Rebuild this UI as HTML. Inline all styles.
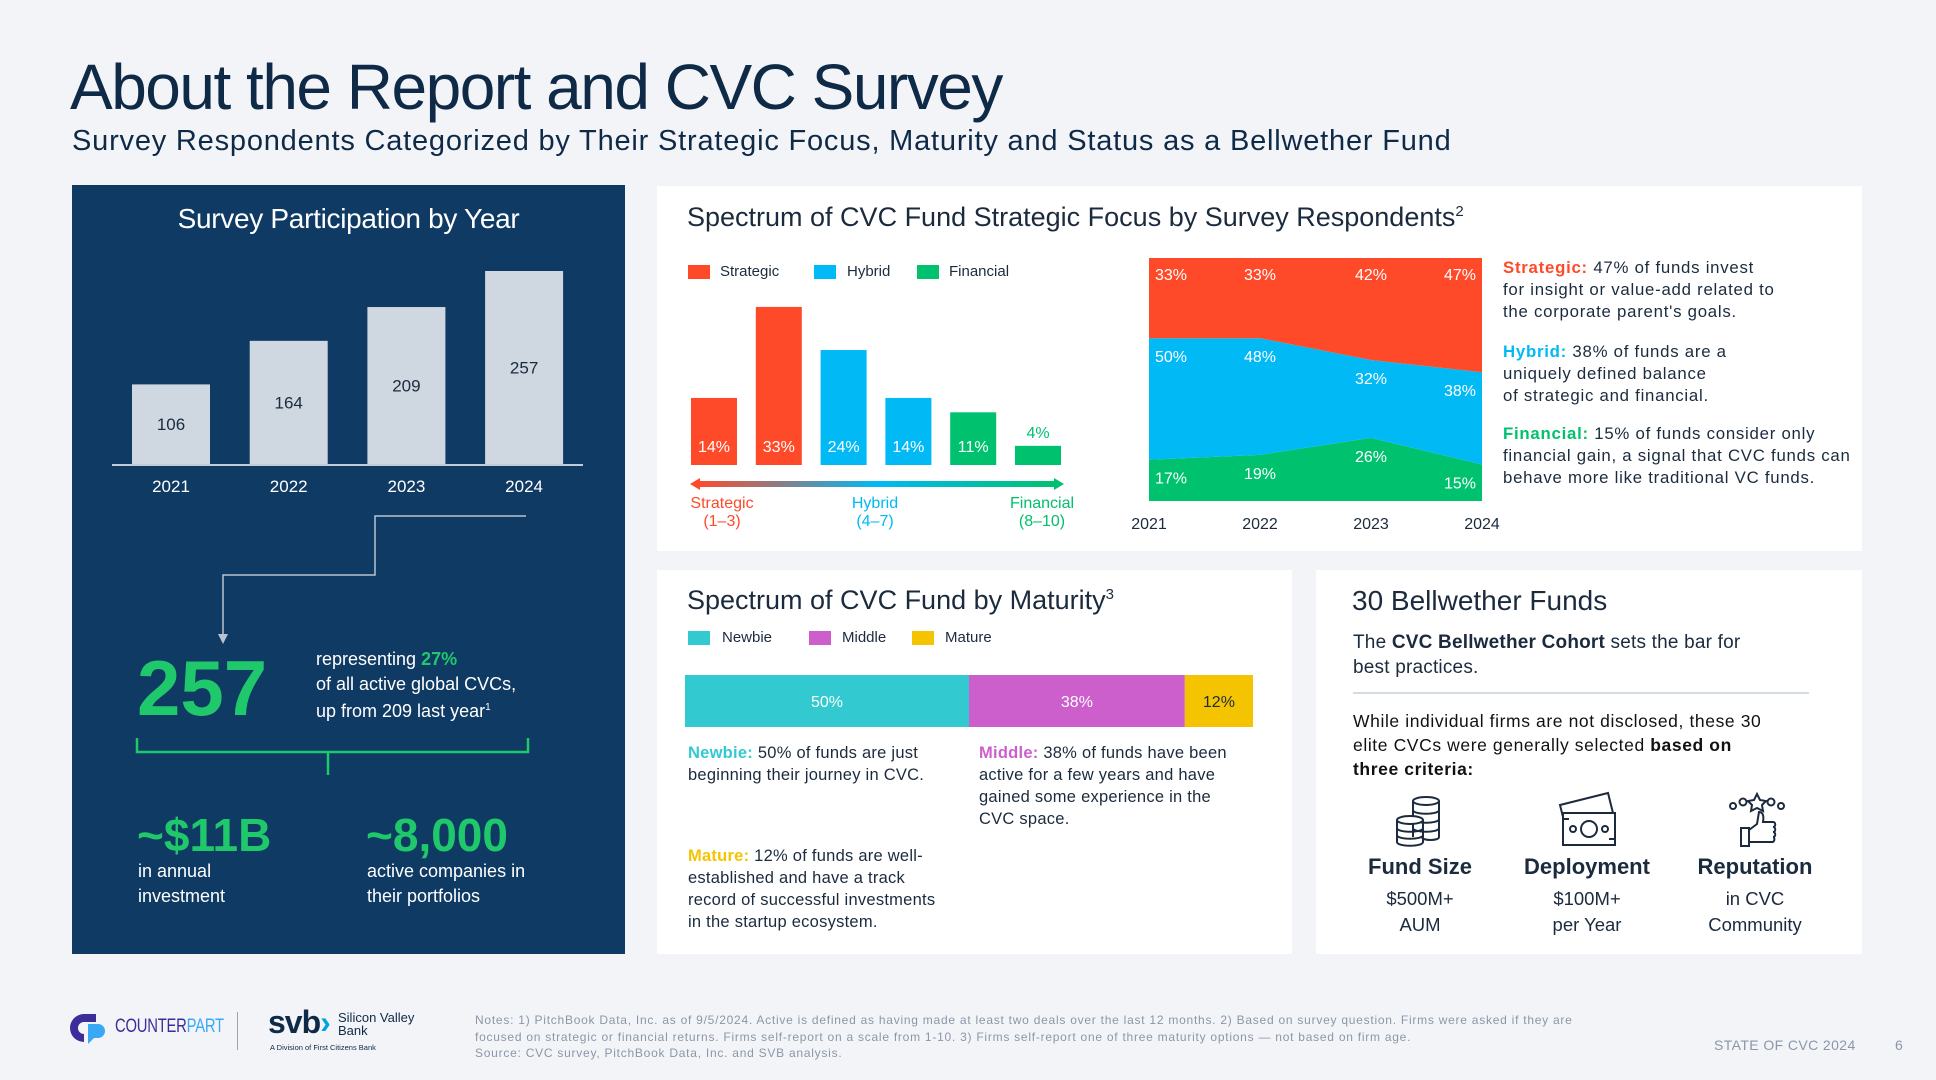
<!DOCTYPE html>
<html><head><meta charset="utf-8">
<style>
*{margin:0;padding:0;box-sizing:border-box}
body{width:1936px;height:1080px;background:#f3f4f8;font-family:"Liberation Sans",sans-serif;color:#0f2a47;position:relative;overflow:hidden}
.a{position:absolute;white-space:nowrap}
.card{position:absolute;background:#fff}
.t18{font-size:16.5px;line-height:22px;color:#1b2b3d;letter-spacing:0.25px}
.rd{font-size:16.8px;letter-spacing:0.75px}
.lg{position:absolute;width:22px;height:14px}
</style></head><body>
<div class="a" style="left:70px;top:50px;font-size:64px;letter-spacing:-1.5px;color:#0f2a47">About the Report and CVC Survey</div>
<div class="a" style="left:72px;top:125px;font-size:29px;letter-spacing:0.8px;color:#0f2a47">Survey Respondents Categorized by Their Strategic Focus, Maturity and Status as a Bellwether Fund</div>

<!-- Left panel -->
<div class="a" style="left:72px;top:185px;width:553px;height:769px;background:#0f3a63"></div>
<div class="a" style="left:72px;top:203px;width:553px;text-align:center;font-size:28px;color:#fff;letter-spacing:-0.3px">Survey Participation by Year</div>
<svg class="a" id="leftsvg" style="left:0;top:0" width="1936" height="1080"></svg>
<div class="a" style="left:137px;top:643px;font-size:78px;font-weight:bold;color:#1fc96b">257</div>
<div class="a" style="left:316px;top:647px;font-size:18px;line-height:24.5px;color:#fff">representing <b style="color:#1fc96b">27%</b><br>of all active global CVCs,<br>up from 209 last year<sup style="font-size:10px">1</sup></div>
<div class="a" style="left:137px;top:808px;font-size:46px;font-weight:bold;color:#1fc96b">~$11B</div>
<div class="a" style="left:138px;top:859px;font-size:18px;line-height:25px;color:#fff">in annual<br>investment</div>
<div class="a" style="left:366px;top:808px;font-size:46px;font-weight:bold;color:#1fc96b">~8,000</div>
<div class="a" style="left:367px;top:859px;font-size:18px;line-height:25px;color:#fff">active companies in<br>their portfolios</div>

<!-- Strategic focus card -->
<div class="card" style="left:657px;top:186px;width:1205px;height:365px"></div>
<div class="a" style="left:687px;top:202px;font-size:27px;letter-spacing:0px;color:#1b2b3d">Spectrum of CVC Fund Strategic Focus by Survey Respondents<sup style="font-size:15px">2</sup></div>
<div class="lg" style="left:688px;top:265px;background:#ff4a2a"></div><div class="a" style="left:720px;top:263px;font-size:15px;color:#1b2b3d">Strategic</div>
<div class="lg" style="left:814px;top:265px;background:#00b9f5"></div><div class="a" style="left:847px;top:263px;font-size:15px;color:#1b2b3d">Hybrid</div>
<div class="lg" style="left:917px;top:265px;background:#00c16e"></div><div class="a" style="left:949px;top:263px;font-size:15px;color:#1b2b3d">Financial</div>
<svg class="a" id="focussvg" style="left:0;top:0" width="1936" height="1080">
<defs><linearGradient id="gr" x1="0" x2="1"><stop offset="0" stop-color="#ff4a2a"/><stop offset="0.5" stop-color="#00b9f5"/><stop offset="1" stop-color="#00c16e"/></linearGradient></defs>
<rect x="696" y="481" width="362" height="6" fill="url(#gr)"/>
<polygon points="690,484 700,478 700,490" fill="#ff4a2a"/><polygon points="1064,484 1054,478 1054,490" fill="#00c16e"/>
</svg>
<div class="a" style="left:672px;top:495px;width:100px;text-align:center;font-size:16px;line-height:18px;color:#ff4a2a">Strategic<br>(1–3)</div>
<div class="a" style="left:825px;top:495px;width:100px;text-align:center;font-size:16px;line-height:18px;color:#00b9f5">Hybrid<br>(4–7)</div>
<div class="a" style="left:992px;top:495px;width:100px;text-align:center;font-size:16px;line-height:18px;color:#00c16e">Financial<br>(8–10)</div>
<div class="a t18 rd" style="left:1503px;top:257px"><b style="color:#ff4a2a">Strategic:</b> 47% of funds invest<br>for insight or value-add related to<br>the corporate parent's goals.</div>
<div class="a t18 rd" style="left:1503px;top:341px"><b style="color:#00b9f5">Hybrid:</b> 38% of funds are a<br>uniquely defined balance<br>of strategic and financial.</div>
<div class="a t18 rd" style="left:1503px;top:423px"><b style="color:#00c16e">Financial:</b> 15% of funds consider only<br>financial gain, a signal that CVC funds can<br>behave more like traditional VC funds.</div>

<!-- Maturity card -->
<div class="card" style="left:657px;top:570px;width:635px;height:384px"></div>
<div class="a" style="left:687px;top:585px;font-size:27px;letter-spacing:0px;color:#1b2b3d">Spectrum of CVC Fund by Maturity<sup style="font-size:15px">3</sup></div>
<div class="lg" style="left:688px;top:631px;background:#33c9d0"></div><div class="a" style="left:722px;top:629px;font-size:15px;color:#1b2b3d">Newbie</div>
<div class="lg" style="left:809px;top:631px;background:#cc5fcc"></div><div class="a" style="left:842px;top:629px;font-size:15px;color:#1b2b3d">Middle</div>
<div class="lg" style="left:912px;top:631px;background:#f5c400"></div><div class="a" style="left:945px;top:629px;font-size:15px;color:#1b2b3d">Mature</div>
<svg class="a" id="matsvg" style="left:0;top:0" width="1936" height="1080"></svg>
<div class="a t18" style="left:688px;top:742px"><b style="color:#33c9d0">Newbie:</b> 50% of funds are just<br>beginning their journey in CVC.</div>
<div class="a t18" style="left:979px;top:742px"><b style="color:#cc5fcc">Middle:</b> 38% of funds have been<br>active for a few years and have<br>gained some experience in the<br>CVC space.</div>
<div class="a t18" style="left:688px;top:845px"><b style="color:#f5c400">Mature:</b> 12% of funds are well-<br>established and have a track<br>record of successful investments<br>in the startup ecosystem.</div>

<!-- Bellwether card -->
<div class="card" style="left:1316px;top:570px;width:546px;height:384px"></div>
<div class="a" style="left:1352px;top:585px;font-size:28px;letter-spacing:0px;color:#1b2b3d">30 Bellwether Funds</div>
<div class="a" style="left:1353px;top:630px;font-size:19px;line-height:25px;letter-spacing:0.2px;color:#1b2b3d">The <b>CVC Bellwether Cohort</b> sets the bar for<br>best practices.</div>
<div class="a" style="left:1353px;top:692px;width:456px;height:2px;background:#d5dbe3"></div>
<div class="a" style="left:1353px;top:709px;font-size:17.5px;line-height:24px;letter-spacing:0.6px;color:#111">While individual firms are not disclosed, these 30<br>elite CVCs were generally selected <b>based on<br>three criteria:</b></div>
<svg class="a" style="left:1390px;top:793px" width="60" height="56" fill="none" stroke="#1b2b3d" stroke-width="2">
<ellipse cx="36" cy="8" rx="13" ry="4"/><path d="M23 8v36M49 8v36M23 17c0 5 26 5 26 0M23 26c0 5 26 5 26 0M23 35c0 5 26 5 26 0M32 44c0 4 17 4 17 0"/>
<ellipse cx="20" cy="27" rx="13" ry="4" fill="#fff"/><path d="M7 27v22M33 27v22M7 35c0 5 26 5 26 0M7 42c0 5 26 5 26 0M7 49c0 5 26 5 26 0"/></svg>
<svg class="a" style="left:1556px;top:791px" width="64" height="60" fill="none" stroke="#1b2b3d" stroke-width="2">
<path d="M4 14L52 2 58 26 10 38z"/><rect x="7" y="22" width="52" height="32" fill="#fff"/><circle cx="33" cy="38" r="8"/><circle cx="17" cy="38" r="3"/><circle cx="49" cy="38" r="3"/><path d="M7 28h6M53 48h6"/></svg>
<svg class="a" style="left:1727px;top:792px" width="60" height="56" fill="none" stroke="#1b2b3d" stroke-width="2">
<path d="M30 2l3 6 6 1-4 4 1 6-6-3-6 3 1-6-4-4 6-1z"/><circle cx="6" cy="14" r="3"/><circle cx="16" cy="10" r="3.5"/><circle cx="44" cy="10" r="3.5"/><circle cx="54" cy="14" r="3"/>
<rect x="14" y="36" width="8" height="18"/><path d="M22 38l8-6 2-12c4 0 5 4 4 10h10c3 0 3 5 0 5 3 0 3 5 0 5 3 0 3 5 0 5 2 0 2 5-1 5H22"/></svg>
<div class="a" style="left:1360px;top:854px;width:120px;text-align:center;font-size:22px;font-weight:bold;color:#1b2b3d">Fund Size</div>
<div class="a" style="left:1360px;top:886px;width:120px;text-align:center;font-size:18.5px;line-height:26px;color:#1b2b3d">$500M+<br>AUM</div>
<div class="a" style="left:1507px;top:854px;width:160px;text-align:center;font-size:22px;font-weight:bold;color:#1b2b3d">Deployment</div>
<div class="a" style="left:1507px;top:886px;width:160px;text-align:center;font-size:18.5px;line-height:26px;color:#1b2b3d">$100M+<br>per Year</div>
<div class="a" style="left:1675px;top:854px;width:160px;text-align:center;font-size:22px;font-weight:bold;color:#1b2b3d">Reputation</div>
<div class="a" style="left:1675px;top:886px;width:160px;text-align:center;font-size:18.5px;line-height:26px;color:#1b2b3d">in CVC<br>Community</div>

<!-- Footer -->
<svg class="a" style="left:70px;top:1012px" width="40" height="32"><path d="M14 2h12v8H14a6 6 0 0 0 0 12v8A14 14 0 0 1 14 2z" fill="#3b2e9a"/><path d="M22 12h6a7 7 0 0 1 0 14h-4l-6 6v-20z" fill="#39a9f5"/></svg>
<div class="a" style="left:115px;top:1016px;font-size:19px;color:#3b2e9a;transform:scaleX(0.78);transform-origin:left;letter-spacing:-0.3px">COUNTER<span style="color:#39a9f5">PART</span></div>
<div class="a" style="left:237px;top:1012px;width:1px;height:38px;background:#9aa3ad"></div>
<div class="a" style="left:268px;top:1004px;font-size:32px;font-weight:bold;color:#0f2a47;letter-spacing:-1px">svb<span style="color:#00a3e0">›</span></div>
<div class="a" style="left:338px;top:1011px;font-size:13px;line-height:13px;color:#0f2a47">Silicon Valley<br>Bank</div>
<div class="a" style="left:270px;top:1043px;font-size:7.5px;color:#0f2a47">A Division of First Citizens Bank</div>
<div class="a" style="left:475px;top:1012px;font-size:12px;letter-spacing:0.75px;line-height:16.5px;color:#8a97a8">Notes: 1) PitchBook Data, Inc. as of 9/5/2024. Active is defined as having made at least two deals over the last 12 months. 2) Based on survey question. Firms were asked if they are<br>focused on strategic or financial returns. Firms self-report on a scale from 1-10. 3) Firms self-report one of three maturity options — not based on firm age.<br>Source: CVC survey, PitchBook Data, Inc. and SVB analysis.</div>
<div class="a" style="left:1714px;top:1037px;font-size:14px;letter-spacing:0.4px;color:#8a97a8">STATE OF CVC 2024</div>
<div class="a" style="left:1895px;top:1037px;font-size:14px;color:#8a97a8">6</div>

<script>
const years=["2021","2022","2023","2024"];
const participants=[106,164,209,257];
const focusLabels=["14%","33%","24%","14%","11%","4%"];
const focusValues=[14,33,24,14,11,4];
const focusGroups=["strategic","strategic","hybrid","hybrid","financial","financial"];
const strategicShare=[33,33,42,47];
const hybridShare=[50,48,32,38];
const financialShare=[17,19,26,15];
const maturityCats=["Newbie","Middle","Mature"];
const maturityValues=[50,38,12];

const NS="http://www.w3.org/2000/svg";
function mk(svg,tag,attrs,text){const e=document.createElementNS(NS,tag);for(const k in attrs)e.setAttribute(k,attrs[k]);if(text!==undefined)e.textContent=text;svg.appendChild(e);return e;}
const colors={strategic:"#ff4a2a",hybrid:"#00b9f5",financial:"#00c16e"};

// Participation chart
const L=document.getElementById('leftsvg');
const pBase=464, pScale=193/257, pX0=171, pStep=117.7, pW=78;
const px=i=>pX0+i*pStep, py=v=>pBase-v*pScale;
participants.forEach((v,i)=>{
  const r=mk(L,'rect',{x:px(i)-pW/2,y:py(v),width:pW,height:pBase-py(v),fill:'#cfd7e1'});
  
  
  const t=mk(L,'text',{x:px(i),y:(py(v)+pBase)/2+6,'text-anchor':'middle','font-size':17,fill:'#1b2b3d','font-family':'Liberation Sans'},String(v));
  
  
  const y=mk(L,'text',{x:px(i),y:492,'text-anchor':'middle','font-size':17,fill:'#fff','font-family':'Liberation Sans'},years[i]);
  
  
});
mk(L,'line',{x1:112,x2:583,y1:pBase+1,y2:pBase+1,stroke:'#c3ccd6','stroke-width':2});
mk(L,'polyline',{points:'526,516 375,516 375,575 223,575 223,634',fill:'none',stroke:'#b8c3cf','stroke-width':1.5});
mk(L,'polygon',{points:'218,634 228,634 223,644',fill:'#b8c3cf'});
mk(L,'polyline',{points:'137,738 137,752 528,752 528,738',fill:'none',stroke:'#1fc96b','stroke-width':2.5});
mk(L,'line',{x1:328,x2:328,y1:752,y2:775,stroke:'#1fc96b','stroke-width':2.5});

// Focus bars
const F=document.getElementById('focussvg');
const fBase=465, fScale=4.79, fX0=714, fStep=64.8, fW=46;
const fx=i=>fX0+i*fStep, fy=v=>fBase-v*fScale;
focusValues.forEach((v,i)=>{
  const r=mk(F,'rect',{x:fx(i)-fW/2,y:fy(v),width:fW,height:fBase-fy(v),fill:colors[focusGroups[i]]});
  
  
  const inside=v>8;
  const t=mk(F,'text',{x:fx(i),y:inside?fBase-13:fy(v)-8,'text-anchor':'middle','font-size':16,fill:inside?'#fff':colors[focusGroups[i]],'font-family':'Liberation Sans'},focusLabels[i]);
  
  
});
// Area chart
const aL=1149,aR=1482,aT=258,aB=501;
const ax=i=>aL+i*(aR-aL)/(years.length-1);
const ay=v=>aB-v/100*(aB-aT);
const layers=[["financial",financialShare],["hybrid",hybridShare],["strategic",strategicShare]];
const cum=years.map(()=>0);
layers.forEach(([name,vals])=>{
  const lo=cum.slice(); vals.forEach((v,i)=>cum[i]+=v); const hi=cum.slice();
  let pts=hi.map((v,i)=>ax(i)+','+ay(v)).join(' ')+' '+lo.map((v,i)=>ax(i)+','+ay(v)).reverse().join(' ');
  const p=mk(F,'polygon',{points:pts,fill:colors[name]});
  
  
});
const cum2=years.map(()=>0);
layers.forEach(([name,vals])=>{
  vals.forEach((v,i)=>{
    cum2[i]+=v;
    const top=ay(cum2[i]);
    let x=ax(i); let anchor='middle';
    if(i===0){x=aL+6;anchor='start';} else if(i===years.length-1){x=aR-6;anchor='end';}
    const t=mk(F,'text',{x:x,y:top+(name==='strategic'?22:24),'text-anchor':anchor,'font-size':16,fill:'#fff','font-family':'Liberation Sans'},v+'%');
    
    
  });
});
years.forEach((y,i)=>{
  const t=mk(F,'text',{x:ax(i),y:529,'text-anchor':'middle','font-size':16,fill:'#1b2b3d','font-family':'Liberation Sans'},y);
  
  
});

// Maturity bar
const M=document.getElementById('matsvg');
const mL=685,mW=568,mT=675,mH=52;
const mColors=["#33c9d0","#cc5fcc","#f5c400"];
let acc=0;
maturityValues.forEach((v,i)=>{
  const x0=mL+acc/100*mW, w=v/100*mW; acc+=v;
  const r=mk(M,'rect',{x:x0,y:mT,width:w,height:mH,fill:mColors[i]});
  
  
  const t=mk(M,'text',{x:x0+w/2,y:mT+32,'text-anchor':'middle','font-size':16,fill:i===2?'#1b2b3d':'#fff','font-family':'Liberation Sans'},v+'%');
  
  
});
</script>
</body></html>
